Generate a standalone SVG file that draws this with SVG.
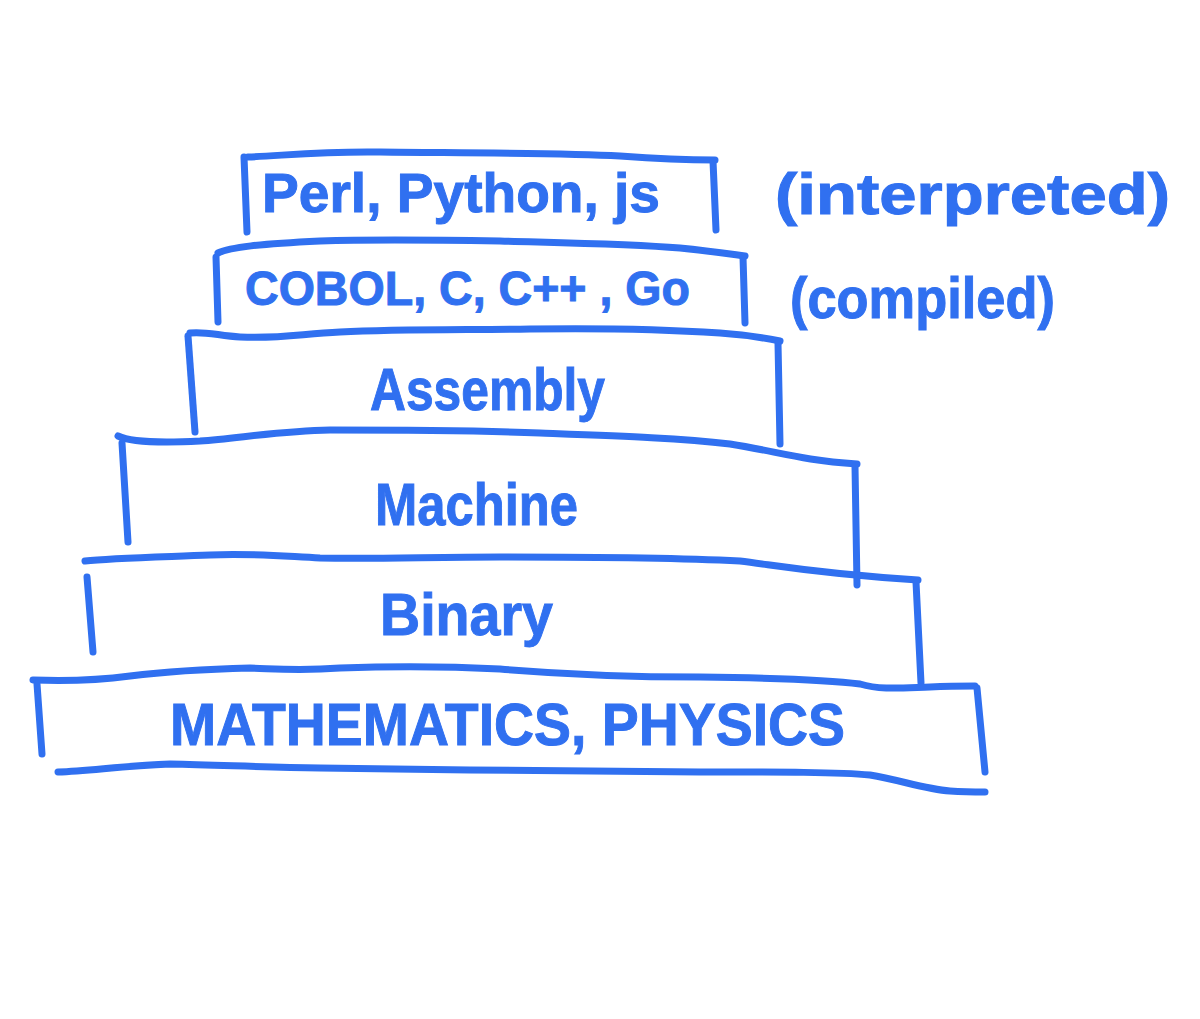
<svg xmlns="http://www.w3.org/2000/svg" width="1200" height="1019" viewBox="0 0 1200 1019">
<style>
.ln{fill:none;stroke:#3070f0;stroke-width:7;stroke-linecap:round;stroke-linejoin:round}
.tx{fill:#3070f0;stroke:#3070f0;stroke-width:1;font-family:"Liberation Sans","DejaVu Sans",sans-serif;font-weight:bold}
</style>
<rect width="1200" height="1019" fill="#ffffff"/>
<g id="layer-interpreted">
<path class="ln" d="M248,157 C280,156 320,151 380,152 C470,153 560,153 620,156 C660,159 690,160 715,160"/>
<path class="ln" d="M244,157 L247,232"/>
<path class="ln" d="M713,161 L716,230"/>
<text class="tx" x="262" y="212" font-size="56" textLength="398" lengthAdjust="spacingAndGlyphs">Perl, Python, js</text>
<text class="tx" x="775" y="214" font-size="58" textLength="395" lengthAdjust="spacingAndGlyphs">(interpreted)</text>
</g>
<g id="layer-compiled">
<path class="ln" d="M218,253 C230,247 260,244 320,241 C380,239 440,240 500,241 C570,243 630,244 680,248 C710,251 730,254 745,256"/>
<path class="ln" d="M216,257 L218,322"/>
<path class="ln" d="M743,257 L745,323"/>
<text class="tx" x="245" y="305" font-size="48" textLength="445" lengthAdjust="spacingAndGlyphs">COBOL, C, C++ , Go</text>
<text class="tx" x="790" y="318" font-size="58" textLength="265" lengthAdjust="spacingAndGlyphs">(compiled)</text>
</g>
<g id="layer-assembly">
<path class="ln" d="M190,333 C205,331 220,336 240,337 C280,339 300,334 340,332 C400,329 470,330 530,329 C600,328 660,329 720,333 C750,335 765,338 780,341"/>
<path class="ln" d="M188,336 L195,432"/>
<path class="ln" d="M778,343 L780,444"/>
<text class="tx" x="370" y="410" font-size="60" textLength="235" lengthAdjust="spacingAndGlyphs">Assembly</text>
</g>
<g id="layer-machine">
<path class="ln" d="M118,436 C130,442 160,443 200,441 C240,438 280,431 330,430 C400,430 470,430 540,433 C620,436 680,438 730,444 C780,452 800,460 857,464"/>
<path class="ln" d="M122,443 L128,542"/>
<path class="ln" d="M855,466 L857,585"/>
<text class="tx" x="375" y="525" font-size="60" textLength="203" lengthAdjust="spacingAndGlyphs">Machine</text>
</g>
<g id="layer-binary">
<path class="ln" d="M85,561 C110,558 160,557 210,555 C250,553 280,556 320,558 C380,559 430,557 500,557 C600,557 680,558 740,561 C780,566 820,574 918,580"/>
<path class="ln" d="M87,577 L93,652"/>
<path class="ln" d="M916,582 L921,683"/>
<text class="tx" x="380" y="635" font-size="60" textLength="173" lengthAdjust="spacingAndGlyphs">Binary</text>
</g>
<g id="layer-foundation">
<path class="ln" d="M33,680 C60,681 100,680 130,676 C170,671 210,669 250,668 C280,669 300,671 340,668 C400,666 460,667 500,669 C560,674 640,677 700,677 C780,678 830,680 860,684 C880,690 900,688 930,687 C950,686 965,686 975,686"/>
<path class="ln" d="M37,684 L42,754"/>
<path class="ln" d="M977,688 L985,772"/>
<path class="ln" d="M58,772 C90,771 120,766 170,764 C220,765 260,767 320,768 C450,770 560,771 700,772 C780,772 840,772 870,775 C900,780 925,789 950,791 C965,792 975,792 985,792"/>
<text class="tx" x="170" y="745" font-size="60" textLength="675" lengthAdjust="spacingAndGlyphs">MATHEMATICS, PHYSICS</text>
</g>
</svg>
